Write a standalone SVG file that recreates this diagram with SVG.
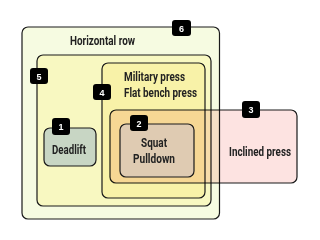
<svg xmlns="http://www.w3.org/2000/svg" width="320" height="240" viewBox="0 0 320 240">
<style>
.box{stroke:#1a1a1a;stroke-width:1.2}
.t{font-family:Roboto,"Liberation Sans",sans-serif;font-weight:bold;font-size:12px;fill:#222}
.badge rect{fill:#000}
.badge text{font-family:"Liberation Sans",Arial,sans-serif;font-weight:bold;font-size:9px;fill:#fff;text-anchor:middle}
</style>
<rect width="320" height="240" fill="#fff"/>
<g id="node6">
<rect class="box" x="22" y="27" width="197.5" height="192" rx="6" fill="#f6fbe1"/>
<text class="t" x="70" y="45" textLength="65" lengthAdjust="spacingAndGlyphs">Horizontal row</text>
</g>
<g id="node5">
<rect class="box" x="37" y="55" width="174" height="151" rx="6" fill="#f8f8c1" stroke="#333"/>
</g>
<g id="node4">
<rect class="box" x="102" y="63" width="103" height="135" rx="6" fill="#f8f2a8"/>
<text class="t" x="124" y="81" textLength="61" lengthAdjust="spacingAndGlyphs">Military press</text>
<text class="t" x="124" y="97" textLength="73" lengthAdjust="spacingAndGlyphs">Flat bench press</text>
</g>
<g id="node3">
<rect class="box" x="110" y="110" width="187" height="73" rx="6" fill="#fde3e1" style="mix-blend-mode:multiply"/>
<text class="t" x="229" y="156" textLength="62" lengthAdjust="spacingAndGlyphs">Inclined press</text>
</g>
<g id="node2">
<rect class="box" x="120" y="124" width="74" height="53" rx="6" fill="#dfcbb2"/>
<text class="t" x="141" y="147" textLength="26" lengthAdjust="spacingAndGlyphs">Squat</text>
<text class="t" x="133" y="163" textLength="42" lengthAdjust="spacingAndGlyphs">Pulldown</text>
</g>
<g id="node1">
<rect class="box" x="44" y="128" width="52" height="38" rx="6" fill="#c8d6c4"/>
<text class="t" x="52" y="154" textLength="34" lengthAdjust="spacingAndGlyphs">Deadlift</text>
</g>
<g id="badges" class="badge">
<g id="badge6"><rect x="172" y="20" width="19" height="16" rx="3"/><text x="181.5" y="31.5">6</text></g>
<g id="badge5"><rect x="30" y="68" width="18" height="16" rx="3"/><text x="39" y="79.5">5</text></g>
<g id="badge4"><rect x="93" y="84" width="18" height="16" rx="3"/><text x="102" y="95.5">4</text></g>
<g id="badge3"><rect x="242" y="101" width="18" height="17" rx="3"/><text x="251" y="113">3</text></g>
<g id="badge2"><rect x="130" y="115" width="18" height="16" rx="3"/><text x="139" y="126.5">2</text></g>
<g id="badge1"><rect x="52" y="118" width="18" height="17" rx="3"/><text x="61" y="130">1</text></g>
</g>
<g id="connectors"/>
</svg>
